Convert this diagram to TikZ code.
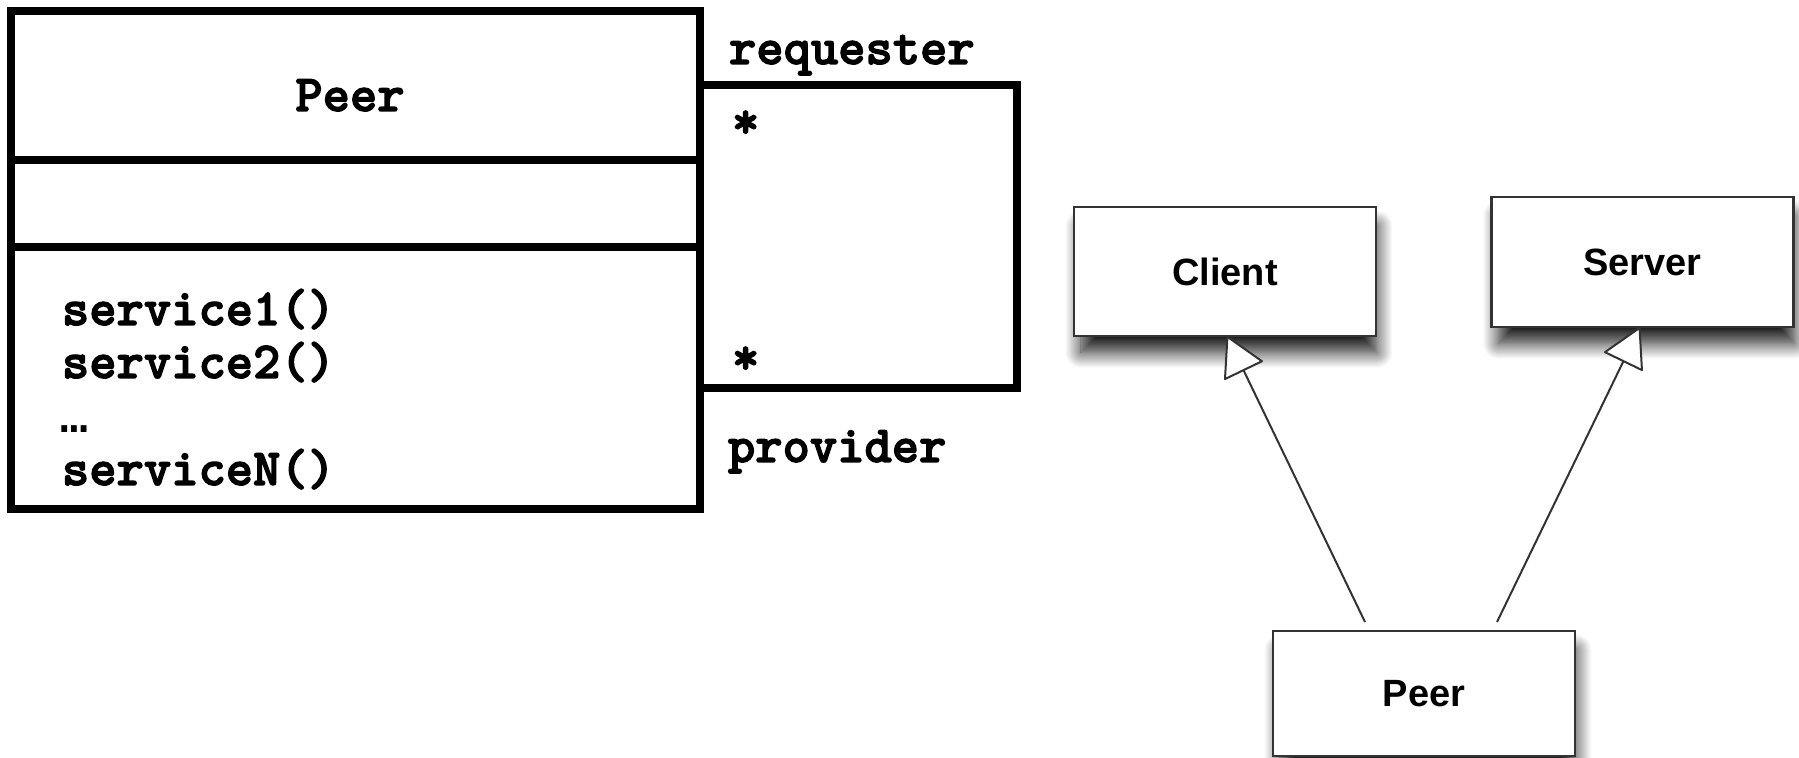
\documentclass[tikz,border=0pt]{standalone}
\usepackage{fontspec}
\setmainfont{Liberation Sans}
\newfontfamily\umlmono{lmmonolt10-bold}[Extension=.otf, FakeBold=2.5]
\newfontfamily\dotsmono{Liberation Mono}
\newfontfamily\uisans{Liberation Sans}
\usetikzlibrary{arrows.meta,shadows.blur}

\begin{document}
\begin{tikzpicture}[x=0.5pt,y=-0.5pt,
  mono/.style={font=\umlmono\fontsize{26}{30}\selectfont, inner sep=0pt, outer sep=0pt},
  heavy/.style={line width=3.8pt, draw=black},
  classbox/.style={draw=black!80, line width=1.2pt, fill=white,
    minimum width=151pt, minimum height=64.5pt, inner sep=0pt, outer sep=0pt,
    font=\uisans\bfseries\fontsize{19}{23}\selectfont,
    blur shadow={shadow xshift=2pt, shadow yshift=-9pt, shadow scale=0.98,
      shadow blur radius=8pt, shadow blur steps=16, shadow opacity=90}},
  gen/.style={draw=black!80, line width=1pt,
    -{Triangle[fill=white, length=20pt, width=22pt, round]}}
]
\useasboundingbox (0,0) rectangle (1799,758);

% ---- Peer class with its three compartments ----
\node[heavy, draw, minimum width=344.5pt, minimum height=249pt,
      anchor=north west, inner sep=0pt, outer sep=0pt] (peerbox) at (11,11) {};
\coordinate (divA) at (0,160);
\coordinate (divB) at (0,247);
\draw[heavy] (peerbox.west |- divA) -- (peerbox.east |- divA);
\draw[heavy] (peerbox.west |- divB) -- (peerbox.east |- divB);

\node[mono, anchor=base] (peername) at (350,111) {Peer};
\node[mono, anchor=base west] (opA) at (62,325) {service1()};
\node[mono, anchor=base west] (opB) at (62,378) {service2()};
\node[mono, anchor=base west, font=\dotsmono\bfseries\fontsize{23}{27}\selectfont] (opdots) at (60,433) {…};
\node[mono, anchor=base west] (opN) at (62,485) {serviceN()};

% ---- self association requester / provider ----
\coordinate (loopNE) at (1017,85);
\coordinate (loopSE) at (1017,388);
\draw[heavy] (peerbox.east |- loopNE) -- (loopNE) -- (loopSE) -- (peerbox.east |- loopSE);

\node[mono, anchor=base west] (rolereq) at (729,64) {requester};
\node[mono, anchor=base west] (roleprov) at (728,462) {provider};
\node[mono, anchor=base west] (multreq) at (732,138) {*};
\node[mono, anchor=base west] (multprov) at (732,374) {*};

% ---- generalisation: Peer is both Client and Server ----
\node[classbox] (client) at (1225,271.5) {Client};
\node[classbox, minimum height=65pt] (server) at (1642.5,262) {Server};
\node[classbox, minimum height=62.5pt] (peer) at (1424,693.5) {Peer};

\draw[gen] ([xshift=-29.5pt,yshift=4.5pt]peer.north) -- ([xshift=1pt]client.south);
\draw[gen] ([xshift=36.5pt,yshift=4.5pt]peer.north) -- ([xshift=-1.25pt]server.south);
\end{tikzpicture}
\end{document}
